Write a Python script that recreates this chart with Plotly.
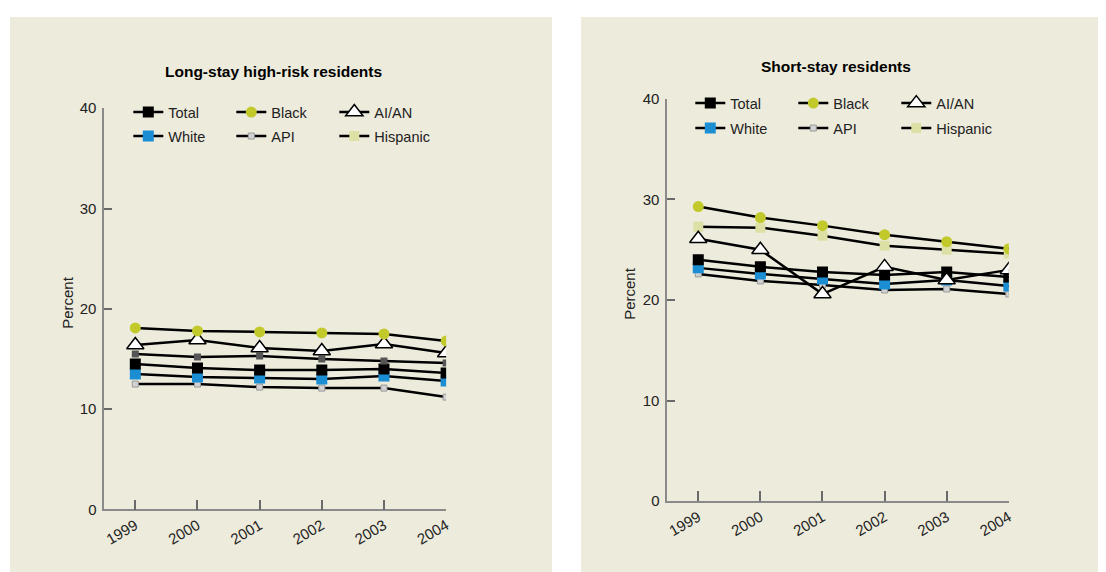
import plotly.graph_objects as go

# The page is photographed as a 1114x588 region (plot div offset 8,16 by the
# page margins) and scaled to 1106x572; map reference pixels accordingly.
REF_W, REF_H = 1106, 572
OX, OY = 8, 16
FW, FH = 1106, 572
SX, SY = REF_W / (FW + OX), REF_H / (FH + OY)

years = [1999, 2000, 2001, 2002, 2003, 2004]
year_labels = ["1999", "2000", "2001", "2002", "2003", "2004"]
y_ticks = [0, 10, 20, 30, 40]

# Long-stay high-risk residents (percent)
total_ls = [14.5, 14.1, 13.9, 13.9, 14.0, 13.6]
white_ls = [13.5, 13.2, 13.1, 13.0, 13.3, 12.8]
black_ls = [18.1, 17.8, 17.7, 17.6, 17.5, 16.8]
api_ls = [12.5, 12.5, 12.2, 12.1, 12.1, 11.2]
aian_ls = [16.4, 16.9, 16.1, 15.8, 16.5, 15.6]
hisp_ls = [15.5, 15.2, 15.3, 15.0, 14.8, 14.6]

# Short-stay residents (percent)
total_ss = [24.0, 23.3, 22.8, 22.5, 22.8, 22.3]
white_ss = [23.2, 22.6, 22.1, 21.6, 22.0, 21.4]
black_ss = [29.3, 28.2, 27.4, 26.5, 25.8, 25.1]
api_ss = [22.6, 21.9, 21.5, 21.0, 21.1, 20.6]
aian_ss = [26.1, 25.0, 20.6, 23.3, 22.0, 23.0]
hisp_ss = [27.3, 27.2, 26.4, 25.4, 25.0, 24.6]

FONT = "Liberation Sans, Arial, Helvetica, sans-serif"
BG = "#EDEBDC"
BLUE = "#1B8ED3"
YG = "#C2CA2B"
PALE = "#DCE0A4"
LINE_W = 2.5

styles = {
    "Total": dict(symbol="square", size=11, color="black", line=dict(width=0)),
    "White": dict(symbol="square", size=11, color=BLUE, line=dict(width=0)),
    "Black": dict(symbol="circle", size=11, color=YG, line=dict(width=0)),
    "API": dict(symbol="square", size=6, color="#D2D2D2", line=dict(width=1, color="#9A9A9A")),
    "AI/AN": dict(symbol="triangle-up", size=15, color="white", line=dict(width=1.5, color="black")),
    "Hispanic": dict(symbol="square", size=10, color=PALE, line=dict(width=0)),
}
hisp_ls_style = dict(symbol="square", size=7, color="#555555", line=dict(width=0))

fig = go.Figure()

def add_series(name, x, y, xa, ya, marker):
    fig.add_trace(go.Scatter(
        x=x, y=y, mode="lines+markers", name=name, showlegend=False,
        xaxis=xa, yaxis=ya, line=dict(color="black", width=LINE_W),
        marker=marker, hoverinfo="x+y+name"))

left = [("API", api_ls, styles["API"]), ("White", white_ls, styles["White"]),
        ("Total", total_ls, styles["Total"]), ("Hispanic", hisp_ls, hisp_ls_style),
        ("AI/AN", aian_ls, styles["AI/AN"]), ("Black", black_ls, styles["Black"])]
right = [("API", api_ss, styles["API"]), ("White", white_ss, styles["White"]),
         ("Total", total_ss, styles["Total"]), ("Hispanic", hisp_ss, styles["Hispanic"]),
         ("Black", black_ss, styles["Black"]), ("AI/AN", aian_ss, styles["AI/AN"])]
for n, v, m in left:
    add_series(n, years, v, "x", "y", m)
for n, v, m in right:
    add_series(n, years, v, "x2", "y2", m)

# legend entries (rows of three)
rows = [["Total", "Black", "AI/AN"], ["White", "API", "Hispanic"]]
legend_names = ["legend", "legend2", "legend3", "legend4"]
k = 0
for panel in range(2):
    for row in rows:
        lg = legend_names[k]
        for n in row:
            fig.add_trace(go.Scatter(
                x=[None], y=[None], mode="lines+markers", name=n, legend=lg,
                showlegend=True, xaxis="x", yaxis="y",
                line=dict(color="black", width=LINE_W), marker=styles[n]))
        k += 1

def fx(rx):
    return rx / SX - OX

def fy(ry):
    return ry / SY - OY

def px_x(rx):
    return fx(rx) / FW

def px_y(ry):
    return 1 - fy(ry) / FH

axis_common = dict(
    showline=True, linecolor="#8A8A8A", linewidth=1.5, ticks="inside",
    tickcolor="#6A6A6A", tickwidth=1.5, showgrid=False, zeroline=False,
    tickfont=dict(family=FONT, size=15, color="#222222"),
)

fig.update_layout(
    width=FW, height=FH, margin=dict(l=0, r=0, t=0, b=0),
    paper_bgcolor="white", plot_bgcolor="rgba(0,0,0,0)",
    font=dict(family=FONT, size=15, color="#222222"),
    xaxis=dict(domain=[px_x(103), px_x(444.3)], range=[1998.5, 2004], tickvals=years,
               ticktext=year_labels, tickangle=-30, ticklen=10, anchor="y", **axis_common),
    yaxis=dict(domain=[px_y(509.3), px_y(107)], range=[0, 40], tickvals=y_ticks,
               ticklen=8, ticklabelstandoff=3, anchor="x", **axis_common),
    xaxis2=dict(domain=[px_x(665), px_x(1006)], range=[1998.5, 2004], tickvals=years,
                ticktext=year_labels, tickangle=-30, ticklen=10, anchor="y2", **axis_common),
    yaxis2=dict(domain=[px_y(501), px_y(97.7)], range=[0, 40], tickvals=y_ticks,
                ticklen=8, ticklabelstandoff=3, anchor="x2", **axis_common),
    shapes=[
        dict(type="rect", xref="paper", yref="paper", x0=px_x(9), x1=px_x(550),
             y0=0, y1=1, fillcolor=BG, line=dict(width=0), layer="below"),
        dict(type="rect", xref="paper", yref="paper", x0=px_x(579), x1=1,
             y0=0, y1=1, fillcolor=BG, line=dict(width=0), layer="below"),
    ],
    annotations=[
        dict(text="<b>Long-stay high-risk residents</b>", x=px_x(272), y=px_y(70.5),
             xref="paper", yref="paper", showarrow=False, xanchor="center", yanchor="middle",
             font=dict(family=FONT, size=15.5, color="black")),
        dict(text="<b>Short-stay residents</b>", x=px_x(833), y=px_y(65.5),
             xref="paper", yref="paper", showarrow=False, xanchor="center", yanchor="middle",
             font=dict(family=FONT, size=15.5, color="black")),
        dict(text="Percent", x=px_x(67), y=px_y(302), xref="paper", yref="paper",
             showarrow=False, textangle=-90, xanchor="center", yanchor="middle",
             font=dict(family=FONT, size=15, color="#222222")),
        dict(text="Percent", x=px_x(628), y=px_y(293), xref="paper", yref="paper",
             showarrow=False, textangle=-90, xanchor="center", yanchor="middle",
             font=dict(family=FONT, size=15, color="#222222")),
    ],
)

# reference: legend line starts and row centres
legend_pos = [(132, 110), (132, 134), (693, 101), (693, 126)]
for lg, (lx, ly) in zip(legend_names, legend_pos):
    fig.update_layout({lg: dict(
        x=(fx(lx) - 5) / FW, y=1 - (fy(ly) + 1) / FH, xanchor="left", yanchor="middle",
        orientation="h", bgcolor="rgba(0,0,0,0)", borderwidth=0, entrywidth=58,
        entrywidthmode="pixels", font=dict(family=FONT, size=14.5, color="#222222"),
        itemclick=False, itemdoubleclick=False)})

fig.write_html("out.html", config={"displayModeBar": False})
